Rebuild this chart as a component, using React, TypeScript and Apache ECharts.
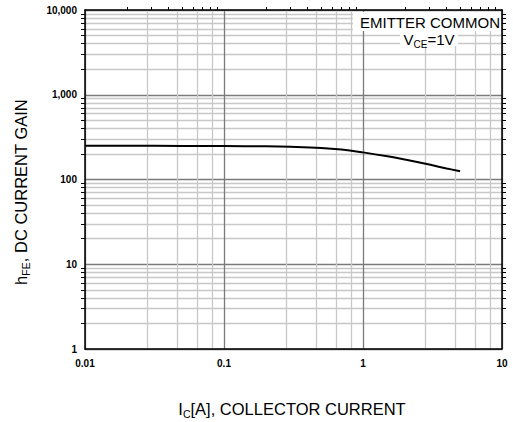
import React, { useEffect, useRef } from "react";
import * as echarts from "echarts";

const icValues = [0.01, 0.02, 0.05, 0.1, 0.2, 0.3, 0.5, 0.7, 1, 1.5, 2, 3, 4, 5];
const hfeValues = [250, 250, 249, 248, 246, 243, 236, 226, 209, 188, 172, 150, 135, 125];
const xTickLabels: Record<string, string> = { "0.01": "0.01", "0.1": "0.1", "1": "1", "10": "10" };
const yTickLabels: Record<string, string> = { "1": "1", "10": "10", "100": "100", "1000": "1,000", "10000": "10,000" };

const FONT = "'Liberation Sans', Arial, Helvetica, sans-serif";

export default function App() {
  const ref = useRef<HTMLDivElement>(null);
  useEffect(() => {
    if (!ref.current) return;
    const chart = echarts.init(ref.current, undefined, { renderer: "svg" });
    const majorSplit = { show: true, lineStyle: { color: "#7a7a7a", width: 1.3 } };
    const minorSplit = { show: true, lineStyle: { color: "#c8c8c8", width: 1.3 } };
    const baseX = {
      type: "log" as const,
      logBase: 10,
      min: 0.01,
      max: 10,
      axisLine: { show: true, onZero: false, lineStyle: { color: "#000", width: 1.5 } },
      axisTick: { show: false },
      minorTick: { show: true, splitNumber: 9, length: 3, lineStyle: { color: "#000", width: 1 } },
    };
    const baseY = {
      type: "log" as const,
      logBase: 10,
      min: 1,
      max: 10000,
      axisLine: { show: true, onZero: false, lineStyle: { color: "#000", width: 1.5 } },
      axisTick: { show: false },
      minorTick: { show: true, splitNumber: 9, length: 4, lineStyle: { color: "#000", width: 1 } },
    };
    chart.setOption({
      animation: false,
      backgroundColor: "#fff",
      textStyle: { fontFamily: FONT },
      grid: { left: 85, right: 11, top: 10, bottom: 73, containLabel: false },
      xAxis: [
        {
          ...baseX,
          position: "bottom",
          axisLabel: {
            color: "#000",
            fontWeight: "bold",
            fontSize: 10,
            fontFamily: FONT,
            margin: 9,
            formatter: (v: number) => xTickLabels[String(v)] ?? "",
          },
          splitLine: majorSplit,
          minorSplitLine: minorSplit,
          minorTick: { show: false },
        },
        {
          ...baseX,
          position: "top",
          axisLabel: { show: false },
          splitLine: { show: false },
          minorTick: { ...baseX.minorTick, inside: true },
        },
      ],
      yAxis: [
        {
          ...baseY,
          position: "left",
          axisLabel: {
            color: "#000",
            fontWeight: "bold",
            fontSize: 10,
            fontFamily: FONT,
            margin: 8,
            formatter: (v: number) => yTickLabels[String(v)] ?? "",
          },
          splitLine: majorSplit,
          minorSplitLine: minorSplit,
          minorTick: { ...baseY.minorTick, inside: true },
        },
        {
          ...baseY,
          position: "right",
          axisLabel: { show: false },
          splitLine: { show: false },
          minorTick: { ...baseY.minorTick, inside: true },
        },
      ],
      series: [
        {
          type: "line",
          xAxisIndex: 0,
          yAxisIndex: 0,
          data: icValues.map((x, i) => [x, hfeValues[i]]),
          smooth: 0.4,
          showSymbol: false,
          lineStyle: { color: "#000", width: 2 },
          z: 5,
        },
      ],
      graphic: [
        { type: "rect", shape: { x: 353, y: 12, width: 148, height: 19 }, style: { fill: "#fff" }, z: 10 },
        { type: "rect", shape: { x: 400, y: 31, width: 58, height: 15 }, style: { fill: "#fff" }, z: 10 },
        {
          type: "text",
          x: 500,
          y: 22,
          z: 11,
          style: { text: "EMITTER COMMON", font: `15px ${FONT}`, fill: "#000", align: "right", verticalAlign: "middle" },
        },
        {
          type: "text",
          x: 429,
          y: 38,
          z: 11,
          style: {
            text: "{m|V}{s|CE}{m|=1V}",
            align: "center",
            verticalAlign: "middle",
            fill: "#000",
            rich: {
              m: { fontSize: 15, fontFamily: FONT, color: "#000", lineHeight: 18, verticalAlign: "bottom" },
              s: { fontSize: 10, fontFamily: FONT, color: "#000", lineHeight: 18, verticalAlign: "bottom", padding: [0, 0, -2, 0] },
            },
          },
        },
        {
          type: "text",
          x: 292,
          y: 407,
          z: 11,
          style: {
            text: "{m|I}{s|C}{m|[A], COLLECTOR CURRENT}",
            align: "center",
            verticalAlign: "middle",
            fill: "#000",
            rich: {
              m: { fontSize: 16.5, fontFamily: FONT, color: "#000", lineHeight: 20, verticalAlign: "bottom" },
              s: { fontSize: 10.5, fontFamily: FONT, color: "#000", lineHeight: 20, verticalAlign: "bottom", padding: [0, 0, -2, 0] },
            },
          },
        },
        {
          type: "text",
          x: 19,
          y: 192,
          rotation: Math.PI / 2,
          z: 11,
          style: {
            text: "{m|h}{s|FE}{m|, DC CURRENT GAIN}",
            align: "center",
            verticalAlign: "middle",
            fill: "#000",
            rich: {
              m: { fontSize: 16.5, fontFamily: FONT, color: "#000", lineHeight: 20, verticalAlign: "bottom" },
              s: { fontSize: 10.5, fontFamily: FONT, color: "#000", lineHeight: 20, verticalAlign: "bottom", padding: [0, 0, -2, 0] },
            },
          },
        },
      ],
    });
    return () => chart.dispose();
  }, []);
  return <div ref={ref} style={{ position: "fixed", left: 0, top: 0, width: 513, height: 422 }} />;
}
